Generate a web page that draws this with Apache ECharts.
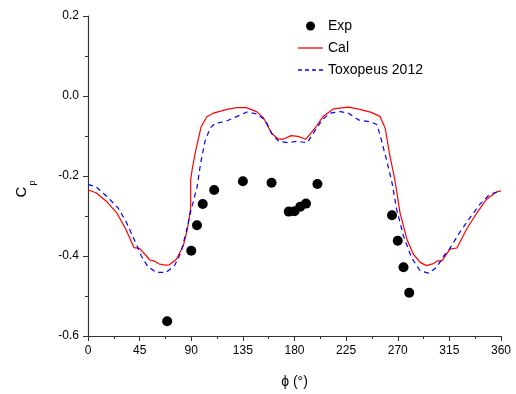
<!DOCTYPE html>
<html>
<head>
<meta charset="utf-8">
<script src="https://cdn.jsdelivr.net/npm/echarts@6/dist/echarts.min.js"></script>
<style>
  html, body { margin: 0; padding: 0; background: #fff; }
  #chart { width: 516px; height: 394px; }
</style>
</head>
<body>
<div id="chart"></div>
<script>
// Measured pressure coefficient vs. azimuth angle
const expAngle = [69, 90, 95, 100, 110, 135, 160, 175, 180, 185, 190, 200, 265, 270, 275, 280];
const expCp = [-0.563, -0.387, -0.323, -0.270, -0.235, -0.213, -0.217, -0.289, -0.288, -0.277, -0.269, -0.220, -0.298, -0.362, -0.428, -0.492];

// Computed curve
const calAngle = [0, 7, 16, 25, 33, 40, 45, 54, 58, 62, 67, 71, 77, 83, 86, 88, 89.5, 89.5, 91, 93.5, 95, 98.5, 103.5, 110, 122, 130, 138, 147, 153, 160, 166, 170, 177, 183, 190, 198, 205, 214, 227, 236, 247, 254.5, 259, 263, 267.5, 272, 278, 283.5, 289.5, 295, 301, 305, 308.5, 315.5, 321.5, 330, 339, 347.5, 356, 360];
const calCp = [-0.235, -0.242, -0.263, -0.292, -0.333, -0.379, -0.381, -0.410, -0.413, -0.420, -0.423, -0.422, -0.408, -0.375, -0.341, -0.310, -0.279, -0.209, -0.180, -0.142, -0.122, -0.078, -0.052, -0.042, -0.033, -0.029, -0.029, -0.039, -0.055, -0.093, -0.108, -0.108, -0.099, -0.101, -0.108, -0.080, -0.051, -0.032, -0.028, -0.033, -0.041, -0.051, -0.080, -0.147, -0.210, -0.292, -0.358, -0.395, -0.416, -0.424, -0.419, -0.412, -0.412, -0.383, -0.380, -0.333, -0.292, -0.258, -0.240, -0.237];

// Toxopeus (2012) reference curve
const toxAngle = [0, 7, 16, 26, 33, 42, 46.5, 52, 59.5, 68, 75.5, 81, 85.5, 90, 95, 98, 102, 106.5, 111, 119.5, 130, 138.5, 147, 154.5, 160, 166, 175, 182, 191, 196.5, 204, 211, 220, 227, 236, 247, 252, 256, 260.5, 265, 269, 275, 282, 289.5, 297, 304, 310, 315.5, 324, 333, 341.5, 350, 360];
const toxCp = [-0.221, -0.227, -0.250, -0.279, -0.313, -0.370, -0.400, -0.426, -0.441, -0.441, -0.424, -0.391, -0.341, -0.283, -0.229, -0.171, -0.113, -0.080, -0.068, -0.064, -0.051, -0.040, -0.045, -0.060, -0.093, -0.113, -0.117, -0.113, -0.117, -0.093, -0.060, -0.043, -0.039, -0.043, -0.060, -0.065, -0.072, -0.113, -0.163, -0.217, -0.283, -0.350, -0.404, -0.437, -0.443, -0.428, -0.400, -0.381, -0.341, -0.304, -0.271, -0.246, -0.237];

const xTicks = [0, 45, 90, 135, 180, 225, 270, 315, 360];
const yTicks = [-0.6, -0.4, -0.2, 0.0, 0.2];

const zip = (a, b) => a.map((v, i) => [v, b[i]]);
const font = 'Liberation Sans, Arial, sans-serif';
const axisColor = '#333';

// legend glyphs: a solid stroke and a dashed stroke
const solidIcon = 'path://M0,0H25V1.3H0Z';
const dashIcon = 'path://M0,0H4V1.3H0Z M7,0H11V1.3H7Z M14,0H18V1.3H14Z M21,0H25V1.3H21Z';

const chart = echarts.init(document.getElementById('chart'), null, { renderer: 'canvas' });
chart.setOption({
  animation: false,
  backgroundColor: '#fff',
  textStyle: { fontFamily: font },
  grid: { left: 88, right: 15, top: 16, bottom: 57, containLabel: false },
  legend: {
    orient: 'vertical',
    left: 293,
    top: 14,
    padding: 5,
    itemWidth: 25,
    itemHeight: 9,
    itemGap: 8,
    textStyle: { fontFamily: font, fontSize: 14, color: '#000' },
    data: [
      { name: 'Exp', icon: 'circle' },
      { name: 'Cal', icon: solidIcon },
      { name: 'Toxopeus 2012', icon: dashIcon }
    ]
  },
  xAxis: {
    type: 'value',
    min: xTicks[0],
    max: xTicks[xTicks.length - 1],
    interval: 45,
    name: 'ϕ (°)',
    nameLocation: 'middle',
    nameGap: 39,
    nameTextStyle: { fontFamily: font, fontSize: 14, color: '#000' },
    axisLine: { show: true, onZero: false, lineStyle: { color: axisColor, width: 1.2 } },
    axisTick: { show: true, inside: false, length: 5, lineStyle: { color: axisColor } },
    minorTick: { show: true, splitNumber: 2, length: 3, lineStyle: { color: axisColor } },
    splitLine: { show: false },
    axisLabel: { fontFamily: font, fontSize: 12, color: '#000', margin: 9 }
  },
  yAxis: {
    type: 'value',
    min: yTicks[0],
    max: yTicks[yTicks.length - 1],
    interval: 0.2,
    name: '{c|C}{p|p}',
    nameLocation: 'middle',
    nameGap: 51,
    nameRotate: 90,
    nameTextStyle: {
      padding: [0, 26, 0, 0],
      rich: {
        c: { fontFamily: font, fontSize: 15, color: '#000', verticalAlign: 'top', lineHeight: 15 },
        p: { fontFamily: font, fontSize: 9, color: '#000', verticalAlign: 'bottom', padding: [14, 0, 0, 1] }
      }
    },
    axisLine: { show: true, onZero: false, lineStyle: { color: axisColor, width: 1.2 } },
    axisTick: { show: true, inside: false, length: 5, lineStyle: { color: axisColor } },
    minorTick: { show: true, splitNumber: 2, length: 3, lineStyle: { color: axisColor } },
    splitLine: { show: false },
    axisLabel: {
      fontFamily: font, fontSize: 12, color: '#000', margin: 9,
      formatter: v => v.toFixed(1)
    }
  },
  series: [
    {
      name: 'Exp',
      type: 'scatter',
      data: zip(expAngle, expCp),
      symbol: 'circle',
      symbolSize: 10,
      itemStyle: { color: '#000', opacity: 1 },
      z: 3
    },
    {
      name: 'Cal',
      type: 'line',
      data: zip(calAngle, calCp),
      symbol: 'none',
      showSymbol: false,
      lineStyle: { color: '#ff0000', width: 1.2 },
      itemStyle: { color: '#ff0000' },
      z: 2
    },
    {
      name: 'Toxopeus 2012',
      type: 'line',
      data: zip(toxAngle, toxCp),
      symbol: 'none',
      showSymbol: false,
      lineStyle: { color: '#0000ff', width: 1.2, type: [5, 4] },
      itemStyle: { color: '#0000ff' },
      z: 2
    }
  ]
});
</script>
</body>
</html>
